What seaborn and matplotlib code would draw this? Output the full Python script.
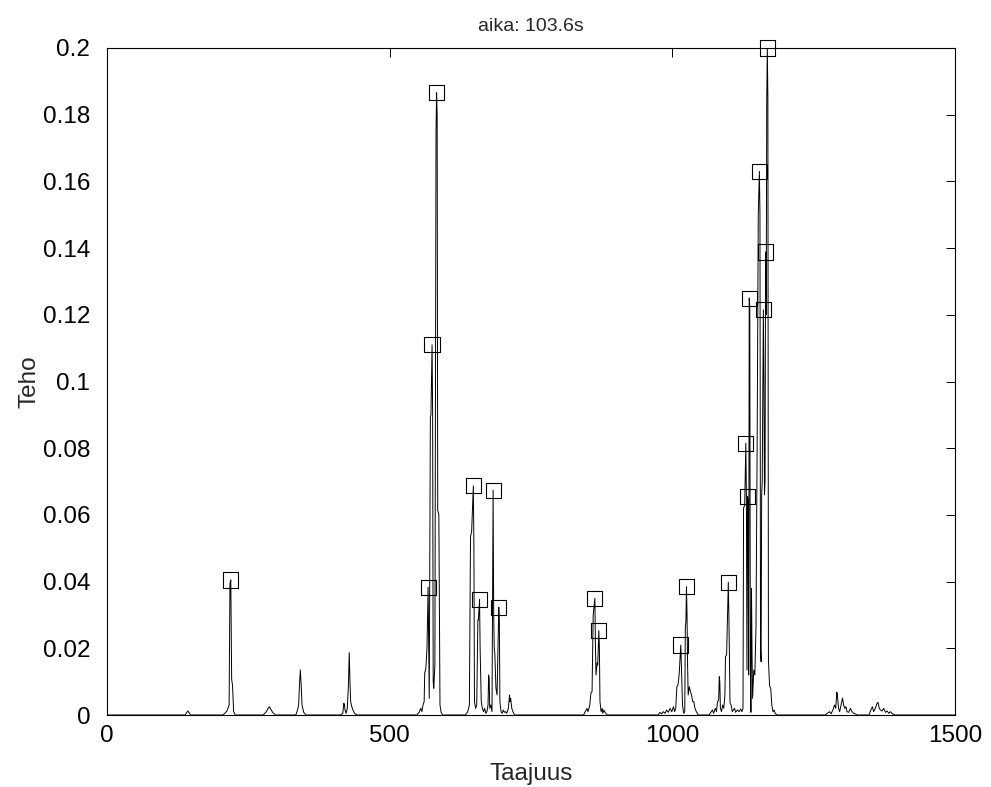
import numpy as np
import pandas as pd
import matplotlib
matplotlib.use("Agg")
import matplotlib.pyplot as plt
import seaborn as sns
from matplotlib.ticker import FixedLocator, FuncFormatter

# Power spectrum trace (frequency, power) vertices
freq = [0, 138, 143, 148,
        205, 209, 212, 214, 216, 217.5, 219, 220.5, 222, 224, 227,
        276, 281, 287, 293, 298,
        334, 337, 339, 340.5, 342, 343.5, 345, 348, 352,
        413, 417, 419, 420, 421, 423, 425, 427, 428.5, 430, 431, 433, 435, 438, 442,
        548, 552, 555, 557, 559, 561, 562, 564, 566, 568, 569, 570, 572, 573, 575, 576,
        577, 578, 580, 582, 583, 584, 585, 587, 589, 591, 594,
        634, 638, 641, 642, 643, 645, 648, 649, 650, 652, 654, 656, 657, 659, 660, 662,
        664, 666, 668, 670, 672, 674, 675, 676, 677, 679, 681, 683, 684, 685, 686, 688,
        690, 693, 694, 695, 697, 699, 701, 703, 705, 707, 710, 712, 713, 714, 716, 718, 721,
        843, 846, 849, 851, 854, 856, 858, 860, 863, 864, 865, 867, 868, 870, 871, 872,
        874, 876, 877, 879, 881, 885,
        975, 978, 981, 984, 987, 990, 993, 996, 999, 1002, 1004, 1006, 1008, 1010, 1012,
        1015, 1016, 1018, 1020, 1022, 1023, 1024, 1025, 1026, 1027, 1028, 1030, 1032,
        1034, 1036, 1038, 1040, 1043, 1046,
        1065, 1068, 1071, 1073, 1076, 1078, 1080, 1082, 1083, 1084, 1085, 1087, 1089,
        1091, 1093, 1094, 1096, 1099, 1100, 1101, 1102, 1104, 1106, 1108, 1110, 1112,
        1115, 1118, 1121, 1123,
        1125, 1126, 1128, 1130, 1131, 1132, 1133, 1134, 1135, 1136, 1137, 1138, 1139,
        1140, 1141, 1142, 1144, 1146, 1148, 1150, 1152, 1154, 1155, 1156, 1157, 1158,
        1159, 1161, 1162, 1163, 1164, 1165, 1166, 1167, 1168, 1169, 1170, 1172, 1174,
        1176, 1178, 1180, 1182, 1185,
        1270, 1274, 1278, 1281, 1284, 1287, 1289, 1291, 1292, 1294, 1296, 1299, 1301,
        1303, 1305, 1307, 1309, 1312, 1315, 1317, 1320, 1324, 1327,
        1348, 1351, 1354, 1356, 1359, 1362, 1364, 1366, 1368, 1371, 1374, 1377, 1380,
        1383, 1386, 1389, 1394, 1500]

power = [0, 0, 0.0012, 0,
         0, 0.0006, 0.0012, 0.002, 0.003, 0.0395, 0.0405, 0.0107, 0.009, 0.001, 0,
         0, 0.0008, 0.0025, 0.0008, 0,
         0, 0.0015, 0.003, 0.0092, 0.0135, 0.009, 0.003, 0.0008, 0,
         0, 0.0005, 0.0035, 0.003, 0.0015, 0.0005, 0.002, 0.0088, 0.0187, 0.0088, 0.004,
         0.0025, 0.0015, 0.0005, 0,
         0, 0.0008, 0.002, 0.001, 0.003, 0.004, 0.0126, 0.014, 0.02, 0.0383, 0.02, 0.005,
         0.0895, 0.09, 0.111, 0.09,
         0.01, 0.008, 0.015, 0.175, 0.1866, 0.18, 0.0614, 0.06, 0.003, 0.0008, 0,
         0, 0.001, 0.003, 0.03, 0.0535, 0.055, 0.0687, 0.05, 0.004, 0.002, 0.003, 0.0285,
         0.0285, 0.0347, 0.02, 0.004,
         0.002, 0.001, 0.002, 0.0005, 0.001, 0.003, 0.012, 0.011, 0.002, 0.003, 0.001,
         0.0674, 0.03, 0.02, 0.0185, 0.008,
         0.006, 0.0323, 0.028, 0.004, 0.001, 0.0005, 0.0015, 0.0008, 0.001, 0.0005, 0.002,
         0.006, 0.004, 0.005, 0.002, 0.001, 0,
         0, 0.001, 0.002, 0.001, 0.003, 0.0066, 0.007, 0.03, 0.035, 0.02, 0.012, 0.0156,
         0.015, 0.0253, 0.02, 0.004,
         0.001, 0.002, 0.0005, 0.0015, 0.0008, 0,
         0, 0.0008, 0.0003, 0.001, 0.0005, 0.0015, 0.0008, 0.002, 0.001, 0.0025, 0.001,
         0.002, 0.0085, 0.009, 0.012,
         0.021, 0.015, 0.003, 0.0005, 0.001, 0.0265, 0.028, 0.0385, 0.03, 0.015, 0.006,
         0.0085, 0.007,
         0.006, 0.004, 0.004, 0.002, 0.0008, 0,
         0, 0.0008, 0.0015, 0.0005, 0.002, 0.001, 0.004, 0.0045, 0.0115, 0.01, 0.002,
         0.001, 0.003,
         0.002, 0.006, 0.0175, 0.018, 0.0398, 0.03, 0.018, 0.0036, 0.003, 0.001, 0.0015,
         0.002, 0.0008,
         0.0015, 0.001, 0.0018, 0.001,
         0.002, 0.062, 0.063, 0.0815, 0.066, 0.0135, 0.0656, 0.064, 0.012, 0.125, 0.122,
         0.015, 0.0008,
         0.038, 0.018, 0.005, 0.0135, 0.012, 0.027, 0.08, 0.15, 0.163, 0.15, 0.02, 0.016,
         0.066,
         0.07, 0.1215, 0.1, 0.066, 0.07, 0.1388, 0.12, 0.184, 0.2, 0.185, 0.0163, 0.0087,
         0.008,
         0.003, 0.001, 0.0015, 0.0005, 0,
         0, 0.0005, 0.001, 0.0004, 0.0015, 0.003, 0.002, 0.0068, 0.006, 0.002, 0.001,
         0.0035, 0.0051,
         0.003, 0.002, 0.0025, 0.001, 0.0008, 0.002, 0.0012, 0.0006, 0.0003, 0,
         0, 0.0015, 0.0025, 0.001, 0.002, 0.0035, 0.0038, 0.002, 0.0015, 0.0012, 0.002,
         0.0008, 0.0012,
         0.0005, 0.001, 0.0004, 0, 0]

# Detected spectral peaks
peak_freq = [219, 568, 575, 583, 648, 659, 683, 693, 863, 870,
             1015, 1025, 1099, 1130, 1133, 1136, 1154, 1161, 1165, 1168]
peak_power = [0.0405, 0.0383, 0.111, 0.1866, 0.0687, 0.0347, 0.0674, 0.0323, 0.035, 0.0253,
              0.021, 0.0385, 0.0398, 0.0815, 0.0656, 0.125, 0.163, 0.1215, 0.1388, 0.2]

x_ticks = [0, 500, 1000, 1500]
y_ticks = [0, 0.02, 0.04, 0.06, 0.08, 0.1, 0.12, 0.14, 0.16, 0.18, 0.2]

title_text = "aika: 103.6s"
x_label = "Taajuus"
y_label = "Teho"

sns.set_style("white")
plt.rcParams["font.family"] = ["Liberation Sans", "DejaVu Sans"]

spectrum = pd.DataFrame({"Taajuus": freq, "Teho": power})
peaks = pd.DataFrame({"Taajuus": peak_freq, "Teho": peak_power})

fig = plt.figure(figsize=(9.91, 7.87), dpi=100)
ax = fig.add_axes([107 / 991, 1 - 715 / 787, (955 - 107) / 991, (715 - 48) / 787])

sns.lineplot(data=spectrum, x="Taajuus", y="Teho", ax=ax, color="black",
             linewidth=0.7, estimator=None, sort=False)
sns.scatterplot(data=peaks, x="Taajuus", y="Teho", ax=ax, marker="s", s=120,
                facecolors="none", edgecolor="black", linewidth=0.8,
                clip_on=False, zorder=5)

ax.set_xlim(0, 1500)
ax.set_ylim(0, 0.2)
ax.xaxis.set_major_locator(FixedLocator(x_ticks))
ax.yaxis.set_major_locator(FixedLocator(y_ticks))
ax.yaxis.set_major_formatter(FuncFormatter(lambda v, p: f"{v:g}"))
ax.xaxis.set_major_formatter(FuncFormatter(lambda v, p: f"{v:g}"))

for side in ["left", "right", "top", "bottom"]:
    ax.spines[side].set_visible(True)
    ax.spines[side].set_color("black")
    ax.spines[side].set_linewidth(0.8)

ax.tick_params(axis="both", which="major", direction="in", length=6.5, width=0.7,
               top=True, right=True, labelsize=17.5, colors="black")
ax.tick_params(axis="y", pad=12)
ax.tick_params(axis="x", pad=7)

ax.set_title(title_text, fontsize=14, pad=12)
ax.set_xlabel(x_label, fontsize=17.5, labelpad=12)
ax.set_ylabel(y_label, fontsize=17.5, labelpad=2)

fig.savefig("out.png", dpi=100, facecolor="white")
